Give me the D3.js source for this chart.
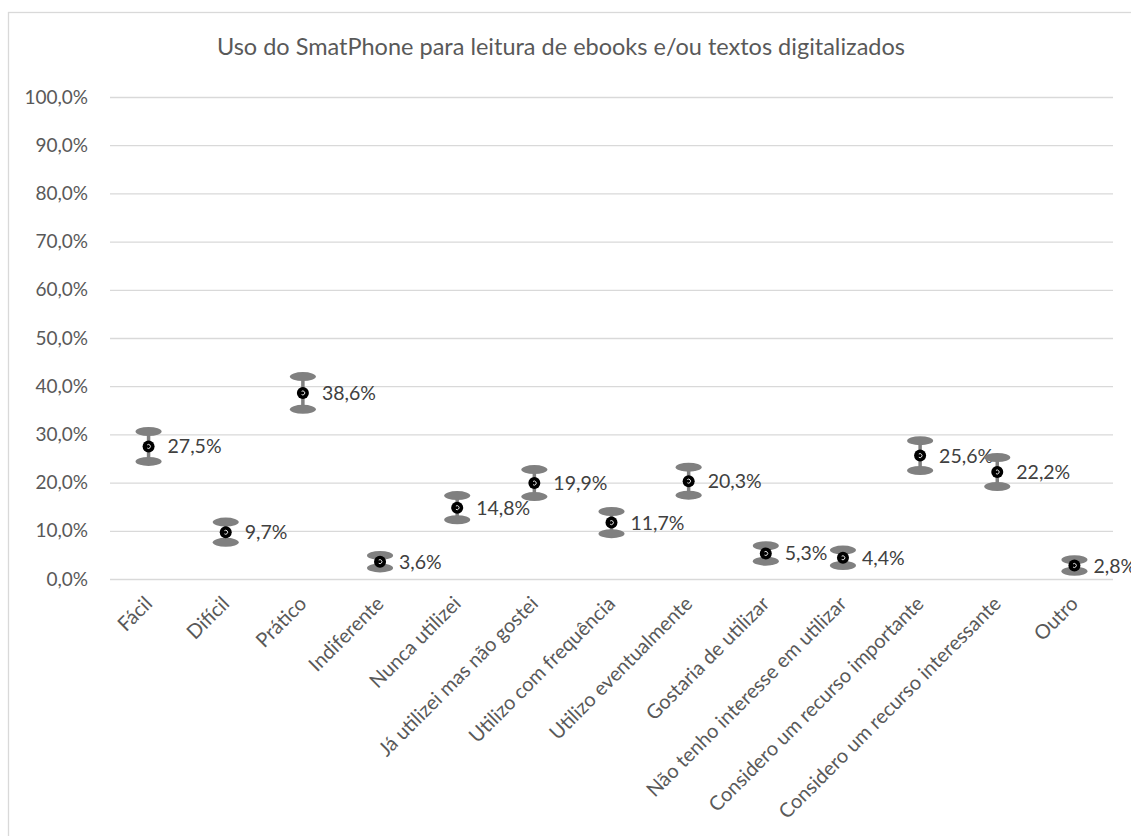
<!DOCTYPE html>
<html>
<head>
<meta charset="utf-8">
<script src="https://cdn.jsdelivr.net/npm/d3@7"></script>
<style>
  body { margin: 0; background: #fff; }
  svg { font-family: Lato, "Liberation Sans", sans-serif; }
</style>
</head>
<body>
<script>
var categories = ["Fácil", "Difícil", "Prático", "Indiferente", "Nunca utilizei",
  "Já utilizei mas não gostei", "Utilizo com frequência", "Utilizo eventualmente",
  "Gostaria de utilizar", "Não tenho interesse em utilizar",
  "Considero um recurso importante", "Considero um recurso interessante", "Outro"];
var values = [27.5, 9.7, 38.6, 3.6, 14.8, 19.9, 11.7, 20.3, 5.3, 4.4, 25.6, 22.2, 2.8];
// half-length of each error bar (percentage points)
var errors = [3.1, 2.1, 3.4, 1.3, 2.5, 2.8, 2.3, 2.9, 1.6, 1.6, 3.1, 3.0, 1.2];
var yTicks = [0, 10, 20, 30, 40, 50, 60, 70, 80, 90, 100];
var title = "Uso do SmatPhone para leitura de ebooks e/ou textos digitalizados";

var w = 1131;
var h = 836;
var plotLeft = 110, plotRight = 1113, plotTop = 97, plotBottom = 579;

var fmt = function(v) { return d3.format(".1f")(v).replace(".", ",") + "%"; };

var svg = d3.select("body")
  .append("svg")
  .attr("width", w)
  .attr("height", h);

// chart border
svg.append("rect")
  .attr("x", 8.5).attr("y", 12.5)
  .attr("width", 1140).attr("height", 840)
  .attr("fill", "none")
  .attr("stroke", "#d9d9d9")
  .attr("stroke-width", 1.3);

svg.append("text")
  .attr("x", 561).attr("y", 55)
  .attr("text-anchor", "middle")
  .attr("font-size", 23.5)
  .attr("fill", "#595959")
  .text(title);

var x = d3.scaleBand().domain(categories).range([plotLeft, plotRight]);
var y = d3.scaleLinear().domain([0, 100]).range([plotBottom, plotTop]);

// y axis with gridlines
var yAxis = svg.append("g")
  .attr("transform", "translate(" + plotLeft + ",0)")
  .call(d3.axisLeft(y)
    .tickValues(yTicks)
    .tickSizeInner(-(plotRight - plotLeft))
    .tickSizeOuter(0)
    .tickPadding(22)
    .tickFormat(fmt));
yAxis.select(".domain").remove();
yAxis.selectAll("line").attr("stroke", "#d9d9d9").attr("stroke-width", 1.3);
yAxis.selectAll("text")
  .attr("font-size", 19)
  .attr("fill", "#595959")
  .attr("font-family", "Lato, sans-serif");

// x axis labels
var xAxis = svg.append("g")
  .attr("transform", "translate(0," + plotBottom + ")")
  .call(d3.axisBottom(x).tickSize(0).tickPadding(0));
xAxis.select(".domain").remove();
xAxis.selectAll("text")
  .attr("font-size", 20)
  .attr("fill", "#595959")
  .attr("font-family", "Lato, sans-serif")
  .attr("text-anchor", "end")
  .attr("dy", "0.35em")
  .attr("transform", "translate(0,21) rotate(-45)");

var cx = function(d, i) { return x(categories[i]) + x.bandwidth() / 2; };

var pts = svg.append("g").selectAll("g")
  .data(values)
  .enter()
  .append("g");

// error bar stems
pts.append("line")
  .attr("x1", cx).attr("x2", cx)
  .attr("y1", function(d, i) { return y(d + errors[i]); })
  .attr("y2", function(d, i) { return y(d - errors[i]); })
  .attr("stroke", "#808080")
  .attr("stroke-width", 3.5);

// caps
pts.append("ellipse")
  .attr("cx", cx)
  .attr("cy", function(d, i) { return y(d + errors[i]); })
  .attr("rx", 13).attr("ry", 4.5)
  .attr("fill", "#808080");
pts.append("ellipse")
  .attr("cx", cx)
  .attr("cy", function(d, i) { return y(d - errors[i]); })
  .attr("rx", 13).attr("ry", 4.5)
  .attr("fill", "#808080");

// markers
pts.append("circle")
  .attr("cx", cx)
  .attr("cy", function(d) { return y(d); })
  .attr("r", 6)
  .attr("fill", "#000");
pts.append("path")
  .attr("transform", function(d, i) { return "translate(" + cx(d, i) + "," + y(d) + ")"; })
  .attr("d", "M-1.3,-1.6 A2,2 0 1 1 -1.3,1.6")
  .attr("fill", "none")
  .attr("stroke", "#fff")
  .attr("stroke-width", 0.9);

// data labels
pts.append("text")
  .attr("x", function(d, i) { return cx(d, i) + 19; })
  .attr("y", function(d) { return y(d); })
  .attr("dy", "0.36em")
  .attr("font-size", 19.5)
  .attr("fill", "#404040")
  .text(function(d) { return fmt(d); });
</script>
</body>
</html>
